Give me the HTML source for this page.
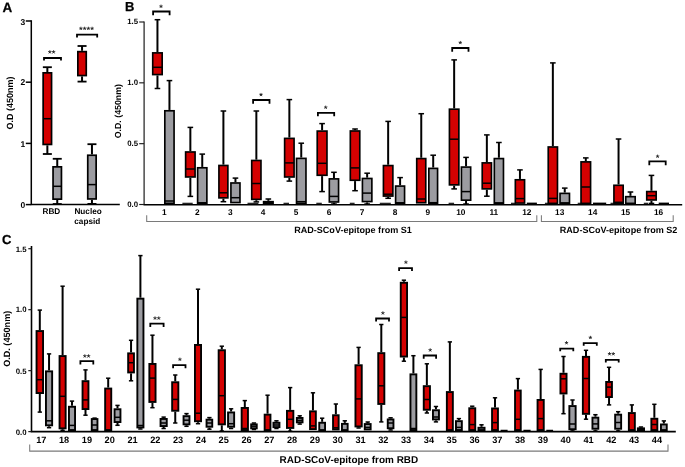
<!DOCTYPE html>
<html><head><meta charset="utf-8"><title>Figure</title>
<style>
html,body{margin:0;padding:0;background:#fff;}
body{width:685px;height:467px;overflow:hidden;font-family:"Liberation Sans",sans-serif;}
svg{display:block;will-change:transform;opacity:0.999;}
svg text{font-family:"Liberation Sans",sans-serif;text-rendering:geometricPrecision;}
</style></head><body>
<svg width="685" height="467" viewBox="0 0 685 467">
<g stroke="#000" fill="none">
<!-- panel A -->
<path d="M31.3 20.3V204.6H119.8" stroke-width="1.5" fill="none"/>
<path d="M25.8 204.6H31.3" stroke-width="1.5"/>
<path d="M25.8 143.4H31.3" stroke-width="1.5"/>
<path d="M25.8 82.2H31.3" stroke-width="1.5"/>
<path d="M25.8 21H31.3" stroke-width="1.5"/>
<path d="M47.35 67.2V72" stroke-width="2"/><path d="M42.85 67.2H51.85" stroke-width="1.8"/><path d="M47.35 145.3V154" stroke-width="2"/><path d="M42.85 154H51.85" stroke-width="1.8"/><rect x="43.15" y="72.85" width="8.4" height="71.6" fill="#d40000" stroke-width="1.7"/><path d="M43.15 118.7H51.55" stroke-width="1.5"/>
<path d="M57.25 158.8V166" stroke-width="2"/><path d="M52.75 158.8H61.75" stroke-width="1.8"/><path d="M57.25 200V204" stroke-width="2"/><path d="M52.75 204H61.75" stroke-width="1.8"/><rect x="53.05" y="166.85" width="8.4" height="32.3" fill="#9c9ca1" stroke-width="1.7"/><path d="M53.05 186.3H61.45" stroke-width="1.5"/>
<path d="M82.05 46V50.8" stroke-width="2"/><path d="M77.55 46H86.55" stroke-width="1.8"/><path d="M82.05 76.4V81.6" stroke-width="2"/><path d="M77.55 81.6H86.55" stroke-width="1.8"/><rect x="77.85" y="51.65" width="8.4" height="23.9" fill="#d40000" stroke-width="1.7"/>
<path d="M91.95 144.2V154.4" stroke-width="2"/><path d="M87.45 144.2H96.45" stroke-width="1.8"/><path d="M91.95 199.8V203.9" stroke-width="2"/><path d="M87.45 203.9H96.45" stroke-width="1.8"/><rect x="87.75" y="155.25" width="8.4" height="43.7" fill="#9c9ca1" stroke-width="1.7"/><path d="M87.75 184.6H96.15" stroke-width="1.5"/>
<path d="M44 60.6V58H61V60.6" fill="none" stroke-width="1.8"/>
<path d="M77 37.6V34.6H97.2V37.6" fill="none" stroke-width="1.8"/>
<!-- panel B -->
<path d="M144.1 21.4V204.7" stroke-width="1.2" stroke="#1c1c1c" fill="none"/>
<path d="M143.5 204.7H682.2" stroke-width="1.6" fill="none"/>
<path d="M139.2 204.5H144.1" stroke-width="1.15" stroke="#1c1c1c"/>
<path d="M139.2 143.67H144.1" stroke-width="1.15" stroke="#1c1c1c"/>
<path d="M139.2 82.83H144.1" stroke-width="1.15" stroke="#1c1c1c"/>
<path d="M139.2 22H144.1" stroke-width="1.15" stroke="#1c1c1c"/>
<path d="M182.4 203.3H192.7" stroke-width="1.1"/>
<path d="M247.5 203.3H258.4" stroke-width="1.1"/>
<path d="M283.5 203.3H289" stroke-width="1.1"/>
<path d="M316.3 203.3H321.8" stroke-width="1.1"/>
<path d="M349.8 203.3H354.6" stroke-width="1.1"/>
<path d="M379.8 203.3H390.8" stroke-width="1.1"/>
<path d="M448.6 203.3H454.1" stroke-width="1.1"/>
<path d="M511 203.3H516" stroke-width="1.1"/>
<path d="M544.9 203.3H549" stroke-width="1.1"/>
<path d="M577.7 203.3H582" stroke-width="1.1"/>
<path d="M610.5 203.3H615" stroke-width="1.1"/>
<path d="M643.8 203.3H648" stroke-width="1.1"/>
<path d="M157.45 19.7V52.05" stroke-width="2"/><path d="M154.65 19.7H160.25" stroke-width="1.5"/><path d="M157.45 75.4V88.5" stroke-width="2"/><path d="M154.65 88.5H160.25" stroke-width="1.5"/><rect x="152.72" y="52.88" width="9.45" height="21.7" fill="#d40000" stroke-width="1.65"/><path d="M152.72 67.3H162.18" stroke-width="1.5"/>
<path d="M169.45 80.6V109.95" stroke-width="2"/><path d="M166.65 80.6H172.25" stroke-width="1.5"/><rect x="164.82" y="110.78" width="9.25" height="92.6" fill="#9c9ca1" stroke-width="1.65"/><path d="M164.82 201H174.08" stroke-width="1.5"/>
<path d="M190.35 127.4V151.15" stroke-width="2"/><path d="M187.55 127.4H193.15" stroke-width="1.5"/><path d="M190.35 177.8V196.4" stroke-width="2"/><path d="M187.55 196.4H193.15" stroke-width="1.5"/><rect x="185.62" y="151.97" width="9.45" height="25" fill="#d40000" stroke-width="1.65"/><path d="M185.62 169H195.08" stroke-width="1.5"/>
<path d="M202.25 154.1V166.95" stroke-width="2"/><path d="M199.45 154.1H205.05" stroke-width="1.5"/><rect x="197.62" y="167.78" width="9.25" height="35.6" fill="#9c9ca1" stroke-width="1.65"/><path d="M197.62 202.8H206.88" stroke-width="1.5"/>
<path d="M223.4 111V164.65" stroke-width="2"/><path d="M220.6 111H226.2" stroke-width="1.5"/><path d="M223.4 198.7V201.7" stroke-width="2"/><path d="M220.6 201.7H226.2" stroke-width="1.5"/><rect x="218.92" y="165.47" width="8.95" height="32.4" fill="#d40000" stroke-width="1.65"/><path d="M218.92 192.8H227.88" stroke-width="1.5"/>
<path d="M235.45 178.1V182.15" stroke-width="2"/><path d="M232.65 178.1H238.25" stroke-width="1.5"/><rect x="230.92" y="182.97" width="9.05" height="19.6" fill="#9c9ca1" stroke-width="1.65"/><path d="M230.92 197.7H239.98" stroke-width="1.5"/>
<path d="M256.35 111V159.65" stroke-width="2"/><path d="M253.55 111H259.15" stroke-width="1.5"/><path d="M256.35 200.2V201.9" stroke-width="2"/><path d="M253.55 201.9H259.15" stroke-width="1.5"/><rect x="251.72" y="160.47" width="9.25" height="38.9" fill="#d40000" stroke-width="1.65"/><path d="M251.72 183.5H260.98" stroke-width="1.5"/>
<path d="M268.35 199V200.85" stroke-width="2"/><path d="M265.55 199H271.15" stroke-width="1.5"/><rect x="263.62" y="201.67" width="9.45" height="1.7" fill="#9c9ca1" stroke-width="1.65"/><path d="M263.62 202.8H273.08" stroke-width="1.5"/>
<path d="M289.35 99.6V137.55" stroke-width="2"/><path d="M286.55 99.6H292.15" stroke-width="1.5"/><path d="M289.35 177.8V181.1" stroke-width="2"/><path d="M286.55 181.1H292.15" stroke-width="1.5"/><rect x="284.62" y="138.38" width="9.45" height="38.6" fill="#d40000" stroke-width="1.65"/><path d="M284.62 162.9H294.08" stroke-width="1.5"/>
<path d="M301.25 143.2V157.55" stroke-width="2"/><path d="M298.45 143.2H304.05" stroke-width="1.5"/><rect x="296.52" y="158.38" width="9.45" height="45" fill="#9c9ca1" stroke-width="1.65"/><path d="M296.52 201.7H305.98" stroke-width="1.5"/>
<path d="M322.1 123.6V130.25" stroke-width="2"/><path d="M319.3 123.6H324.9" stroke-width="1.5"/><path d="M322.1 176.1V191.6" stroke-width="2"/><path d="M319.3 191.6H324.9" stroke-width="1.5"/><rect x="317.22" y="131.07" width="9.75" height="44.2" fill="#d40000" stroke-width="1.65"/><path d="M317.22 163.3H326.98" stroke-width="1.5"/>
<path d="M333.95 172.3V178.05" stroke-width="2"/><path d="M331.15 172.3H336.75" stroke-width="1.5"/><path d="M333.95 202.8V204" stroke-width="2"/><path d="M331.15 204H336.75" stroke-width="1.5"/><rect x="329.32" y="178.88" width="9.25" height="23.1" fill="#9c9ca1" stroke-width="1.65"/><path d="M329.32 196.4H338.58" stroke-width="1.5"/>
<path d="M355.05 129V130.15" stroke-width="2"/><path d="M352.25 129H357.85" stroke-width="1.5"/><path d="M355.05 181.1V190.7" stroke-width="2"/><path d="M352.25 190.7H357.85" stroke-width="1.5"/><rect x="350.32" y="130.97" width="9.45" height="49.3" fill="#d40000" stroke-width="1.65"/><path d="M350.32 167.9H359.78" stroke-width="1.5"/>
<path d="M367.15 173.2V177.65" stroke-width="2"/><path d="M364.35 173.2H369.95" stroke-width="1.5"/><path d="M367.15 202.4V204" stroke-width="2"/><path d="M364.35 204H369.95" stroke-width="1.5"/><rect x="362.42" y="178.47" width="9.45" height="23.1" fill="#9c9ca1" stroke-width="1.65"/><path d="M362.42 193.1H371.88" stroke-width="1.5"/>
<path d="M388.15 121.4V164.75" stroke-width="2"/><path d="M385.35 121.4H390.95" stroke-width="1.5"/><path d="M388.15 196.9V198.3" stroke-width="2"/><path d="M385.35 198.3H390.95" stroke-width="1.5"/><rect x="383.42" y="165.57" width="9.45" height="30.5" fill="#d40000" stroke-width="1.65"/><path d="M383.42 194.2H392.88" stroke-width="1.5"/>
<path d="M400.1 177.6V185.25" stroke-width="2"/><path d="M397.3 177.6H402.9" stroke-width="1.5"/><rect x="395.62" y="186.07" width="8.95" height="17.3" fill="#9c9ca1" stroke-width="1.65"/><path d="M395.62 202.8H404.58" stroke-width="1.5"/>
<path d="M421.25 113.7V157.75" stroke-width="2"/><path d="M418.45 113.7H424.05" stroke-width="1.5"/><rect x="416.72" y="158.57" width="9.05" height="44.2" fill="#d40000" stroke-width="1.65"/><path d="M416.72 199H425.78" stroke-width="1.5"/>
<path d="M433.2 155.2V167.55" stroke-width="2"/><path d="M430.4 155.2H436" stroke-width="1.5"/><rect x="428.82" y="168.38" width="8.75" height="35" fill="#9c9ca1" stroke-width="1.65"/><path d="M428.82 202.7H437.58" stroke-width="1.5"/>
<path d="M454.15 59.9V108.35" stroke-width="2"/><path d="M451.35 59.9H456.95" stroke-width="1.5"/><path d="M454.15 185.7V188.9" stroke-width="2"/><path d="M451.35 188.9H456.95" stroke-width="1.5"/><rect x="449.42" y="109.18" width="9.45" height="75.7" fill="#d40000" stroke-width="1.65"/><path d="M449.42 139.2H458.88" stroke-width="1.5"/>
<path d="M466.05 157.4V166.25" stroke-width="2"/><path d="M463.25 157.4H468.85" stroke-width="1.5"/><path d="M466.05 201V204" stroke-width="2"/><path d="M463.25 204H468.85" stroke-width="1.5"/><rect x="461.42" y="167.07" width="9.25" height="33.1" fill="#9c9ca1" stroke-width="1.65"/><path d="M461.42 191.6H470.68" stroke-width="1.5"/>
<path d="M486.85 134.9V162.05" stroke-width="2"/><path d="M484.05 134.9H489.65" stroke-width="1.5"/><path d="M486.85 189.7V196.2" stroke-width="2"/><path d="M484.05 196.2H489.65" stroke-width="1.5"/><rect x="482.22" y="162.88" width="9.25" height="26" fill="#d40000" stroke-width="1.65"/><path d="M482.22 183.2H491.48" stroke-width="1.5"/>
<path d="M498.9 142.5V157.75" stroke-width="2"/><path d="M496.1 142.5H501.7" stroke-width="1.5"/><rect x="494.32" y="158.57" width="9.15" height="44.8" fill="#9c9ca1" stroke-width="1.65"/><path d="M494.32 202.9H503.48" stroke-width="1.5"/>
<path d="M519.95 169.9V178.95" stroke-width="2"/><path d="M517.15 169.9H522.75" stroke-width="1.5"/><rect x="515.33" y="179.78" width="9.25" height="23.3" fill="#d40000" stroke-width="1.65"/><path d="M515.33 198.6H524.57" stroke-width="1.5"/>
<path d="M552.85 62.9V146.15" stroke-width="2"/><path d="M550.05 62.9H555.65" stroke-width="1.5"/><rect x="548.23" y="146.97" width="9.25" height="56.4" fill="#d40000" stroke-width="1.65"/><path d="M548.23 198.4H557.47" stroke-width="1.5"/>
<path d="M564.75 188.1V192.55" stroke-width="2"/><path d="M561.95 188.1H567.55" stroke-width="1.5"/><rect x="560.03" y="193.38" width="9.45" height="10" fill="#9c9ca1" stroke-width="1.65"/><path d="M560.03 202.9H569.47" stroke-width="1.5"/>
<path d="M585.8 157.9V161.05" stroke-width="2"/><path d="M583 157.9H588.6" stroke-width="1.5"/><rect x="581.03" y="161.88" width="9.55" height="41.5" fill="#d40000" stroke-width="1.65"/><path d="M581.03 187H590.57" stroke-width="1.5"/>
<path d="M618.55 139V184.45" stroke-width="2"/><path d="M615.75 139H621.35" stroke-width="1.5"/><rect x="613.93" y="185.28" width="9.25" height="18.1" fill="#d40000" stroke-width="1.65"/><path d="M613.93 202.3H623.17" stroke-width="1.5"/>
<path d="M630.45 192V195.85" stroke-width="2"/><path d="M627.65 192H633.25" stroke-width="1.5"/><rect x="625.73" y="196.67" width="9.45" height="6.7" fill="#9c9ca1" stroke-width="1.65"/>
<path d="M651.45 175.4V190.75" stroke-width="2"/><path d="M648.65 175.4H654.25" stroke-width="1.5"/><path d="M651.45 200.8V203.4" stroke-width="2"/><path d="M648.65 203.4H654.25" stroke-width="1.5"/><rect x="646.73" y="191.57" width="9.45" height="8.4" fill="#d40000" stroke-width="1.65"/><path d="M646.73 195.7H656.17" stroke-width="1.5"/>
<path d="M526.8 203.5H536.9" stroke-width="1.8"/>
<path d="M593 203.5H606.2" stroke-width="1.8"/>
<path d="M658.7 203.5H669" stroke-width="1.8"/>
<path d="M153.1 15.3V11.5H169.6V15.3" fill="none" stroke-width="1.8"/>
<path d="M253.1 103.8V100H269.5V103.8" fill="none" stroke-width="1.8"/>
<path d="M317.9 116.2V112.8H334.2V116.2" fill="none" stroke-width="1.8"/>
<path d="M452.2 51.8V48H468.5V51.8" fill="none" stroke-width="1.8"/>
<path d="M649.3 165.2V161.4H665.7V165.2" fill="none" stroke-width="1.8"/>
<!-- panel C -->
<path d="M31.5 245.9V431.65H675.8" stroke-width="1.6" fill="none"/>
<path d="M28.3 431.6H31.5" stroke-width="1.2" stroke="#1c1c1c"/>
<path d="M28.3 370.63H31.5" stroke-width="1.2" stroke="#1c1c1c"/>
<path d="M28.3 309.67H31.5" stroke-width="1.2" stroke="#1c1c1c"/>
<path d="M28.3 248.7H31.5" stroke-width="1.2" stroke="#1c1c1c"/>
<path d="M39.8 310.1V330.1" stroke-width="2"/><path d="M37.65 310.1H41.95" stroke-width="1.5"/><path d="M39.8 394V412.1" stroke-width="2"/><path d="M37.65 412.1H41.95" stroke-width="1.5"/><rect x="36.55" y="331.05" width="6.5" height="62" fill="#d40000" stroke-width="1.9"/><path d="M36.55 379.7H43.05" stroke-width="1.5"/>
<path d="M49.05 353.9V370.4" stroke-width="2"/><path d="M46.9 353.9H51.2" stroke-width="1.5"/><path d="M49.05 426.3V427.7" stroke-width="2"/><path d="M46.9 427.7H51.2" stroke-width="1.5"/><rect x="45.95" y="371.35" width="6.2" height="54" fill="#9c9ca1" stroke-width="1.9"/><path d="M45.95 420.8H52.15" stroke-width="1.5"/>
<path d="M62.6 286.2V355.1" stroke-width="2"/><path d="M60.45 286.2H64.75" stroke-width="1.5"/><path d="M62.6 429.3V430.4" stroke-width="2"/><path d="M60.45 430.4H64.75" stroke-width="1.5"/><rect x="59.55" y="356.05" width="6.1" height="72.3" fill="#d40000" stroke-width="1.9"/><path d="M59.55 396.3H65.65" stroke-width="1.5"/>
<path d="M72 401.1V405.8" stroke-width="2"/><path d="M69.85 401.1H74.15" stroke-width="1.5"/><rect x="68.95" y="406.75" width="6.1" height="23.3" fill="#9c9ca1" stroke-width="1.9"/><path d="M68.95 425.4H75.05" stroke-width="1.5"/>
<path d="M85.5 369.9V380.2" stroke-width="2"/><path d="M83.35 369.9H87.65" stroke-width="1.5"/><path d="M85.5 410V415.2" stroke-width="2"/><path d="M83.35 415.2H87.65" stroke-width="1.5"/><rect x="82.55" y="381.15" width="5.9" height="27.9" fill="#d40000" stroke-width="1.9"/><path d="M82.55 399.9H88.45" stroke-width="1.5"/>
<path d="M92.45 418.1H96.75" stroke-width="1.5"/><rect x="91.75" y="419.05" width="5.7" height="11" fill="#9c9ca1" stroke-width="1.9"/><path d="M91.75 425H97.45" stroke-width="1.5"/>
<path d="M108.2 378.2V387.6" stroke-width="2"/><path d="M106.05 378.2H110.35" stroke-width="1.5"/><rect x="105.15" y="388.55" width="6.1" height="41.5" fill="#d40000" stroke-width="1.9"/>
<path d="M117.5 405.4V408.3" stroke-width="2"/><path d="M115.35 405.4H119.65" stroke-width="1.5"/><path d="M117.5 423V425.3" stroke-width="2"/><path d="M115.35 425.3H119.65" stroke-width="1.5"/><rect x="114.55" y="409.25" width="5.9" height="12.8" fill="#9c9ca1" stroke-width="1.9"/><path d="M114.55 417.3H120.45" stroke-width="1.5"/>
<path d="M131.05 340.3V352.4" stroke-width="2"/><path d="M128.9 340.3H133.2" stroke-width="1.5"/><path d="M131.05 373.4V380.8" stroke-width="2"/><path d="M128.9 380.8H133.2" stroke-width="1.5"/><rect x="128.15" y="353.35" width="5.8" height="19.1" fill="#d40000" stroke-width="1.9"/><path d="M128.15 362.7H133.95" stroke-width="1.5"/>
<path d="M140.4 255.6V297.7" stroke-width="2"/><path d="M138.25 255.6H142.55" stroke-width="1.5"/><path d="M140.4 428.4V429" stroke-width="2"/><path d="M138.25 429H142.55" stroke-width="1.5"/><rect x="137.35" y="298.65" width="6.1" height="128.8" fill="#9c9ca1" stroke-width="1.9"/><path d="M137.35 425.5H143.45" stroke-width="1.5"/>
<path d="M152.45 335.2V363" stroke-width="2"/><path d="M150.3 335.2H154.6" stroke-width="1.5"/><path d="M152.45 402.9V407.7" stroke-width="2"/><path d="M150.3 407.7H154.6" stroke-width="1.5"/><rect x="149.35" y="363.95" width="6.2" height="38" fill="#d40000" stroke-width="1.9"/><path d="M149.35 378.1H155.55" stroke-width="1.5"/>
<path d="M163.65 417.1V418" stroke-width="2"/><path d="M161.5 417.1H165.8" stroke-width="1.5"/><path d="M163.65 427V428.5" stroke-width="2"/><path d="M161.5 428.5H165.8" stroke-width="1.5"/><rect x="160.55" y="418.95" width="6.2" height="7.1" fill="#9c9ca1" stroke-width="1.9"/><path d="M160.55 423H166.75" stroke-width="1.5"/>
<path d="M175.25 375V381.3" stroke-width="2"/><path d="M173.1 375H177.4" stroke-width="1.5"/><path d="M175.25 411.7V423" stroke-width="2"/><path d="M173.1 423H177.4" stroke-width="1.5"/><rect x="172.15" y="382.25" width="6.2" height="28.5" fill="#d40000" stroke-width="1.9"/><path d="M172.15 399.4H178.35" stroke-width="1.5"/>
<path d="M186.5 413.6V415.2" stroke-width="2"/><path d="M184.35 413.6H188.65" stroke-width="1.5"/><path d="M186.5 425.3V426.3" stroke-width="2"/><path d="M184.35 426.3H188.65" stroke-width="1.5"/><rect x="183.55" y="416.15" width="5.9" height="8.2" fill="#9c9ca1" stroke-width="1.9"/><path d="M183.55 420.2H189.45" stroke-width="1.5"/>
<path d="M198 289.2V344" stroke-width="2"/><path d="M195.85 289.2H200.15" stroke-width="1.5"/><path d="M198 422.2V423.7" stroke-width="2"/><path d="M195.85 423.7H200.15" stroke-width="1.5"/><rect x="194.95" y="344.95" width="6.1" height="76.3" fill="#d40000" stroke-width="1.9"/><path d="M194.95 413.2H201.05" stroke-width="1.5"/>
<path d="M209.4 417.6V418.7" stroke-width="2"/><path d="M207.25 417.6H211.55" stroke-width="1.5"/><path d="M209.4 427.7V429.2" stroke-width="2"/><path d="M207.25 429.2H211.55" stroke-width="1.5"/><rect x="206.55" y="419.65" width="5.7" height="7.1" fill="#9c9ca1" stroke-width="1.9"/><path d="M206.55 423H212.25" stroke-width="1.5"/>
<path d="M221.8 346.2V349.3" stroke-width="2"/><path d="M219.65 346.2H223.95" stroke-width="1.5"/><path d="M221.8 425.3V431" stroke-width="2"/><path d="M219.65 431H223.95" stroke-width="1.5"/><rect x="218.65" y="350.25" width="6.3" height="74.1" fill="#d40000" stroke-width="1.9"/><path d="M218.65 395.7H224.95" stroke-width="1.5"/>
<path d="M231.1 408.8V411.5" stroke-width="2"/><path d="M228.95 408.8H233.25" stroke-width="1.5"/><path d="M231.1 427.7V428.5" stroke-width="2"/><path d="M228.95 428.5H233.25" stroke-width="1.5"/><rect x="228.05" y="412.45" width="6.1" height="14.3" fill="#9c9ca1" stroke-width="1.9"/><path d="M228.05 423.7H234.15" stroke-width="1.5"/>
<path d="M244.8 400.6V407" stroke-width="2"/><path d="M242.65 400.6H246.95" stroke-width="1.5"/><rect x="241.65" y="407.95" width="6.3" height="22.1" fill="#d40000" stroke-width="1.9"/><path d="M241.65 428.5H247.95" stroke-width="1.5"/>
<path d="M253.95 423V423.4" stroke-width="2"/><path d="M251.8 423H256.1" stroke-width="1.5"/><path d="M251.8 429.5H256.1" stroke-width="1.5"/><rect x="251.15" y="424.35" width="5.6" height="4" fill="#9c9ca1" stroke-width="1.9"/><path d="M251.15 426.2H256.75" stroke-width="1.5"/>
<path d="M267.55 395.2V413.7" stroke-width="2"/><path d="M265.4 395.2H269.7" stroke-width="1.5"/><rect x="264.65" y="414.65" width="5.8" height="15.4" fill="#d40000" stroke-width="1.9"/>
<path d="M276.45 420.8V421.8" stroke-width="2"/><path d="M274.3 420.8H278.6" stroke-width="1.5"/><path d="M276.45 428.1V428.5" stroke-width="2"/><path d="M274.3 428.5H278.6" stroke-width="1.5"/><rect x="273.45" y="422.75" width="6" height="4.4" fill="#9c9ca1" stroke-width="1.9"/><path d="M273.45 425H279.45" stroke-width="1.5"/>
<path d="M290.15 387.6V409.9" stroke-width="2"/><path d="M288 387.6H292.3" stroke-width="1.5"/><path d="M290.15 428.9V431.2" stroke-width="2"/><path d="M288 431.2H292.3" stroke-width="1.5"/><rect x="286.95" y="410.85" width="6.4" height="17.1" fill="#d40000" stroke-width="1.9"/><path d="M286.95 419.3H293.35" stroke-width="1.5"/>
<path d="M299.7 415.8V417" stroke-width="2"/><path d="M297.55 415.8H301.85" stroke-width="1.5"/><path d="M299.7 423.3V424.1" stroke-width="2"/><path d="M297.55 424.1H301.85" stroke-width="1.5"/><rect x="296.85" y="417.95" width="5.7" height="4.4" fill="#9c9ca1" stroke-width="1.9"/><path d="M296.85 420.4H302.55" stroke-width="1.5"/>
<path d="M312.95 392.8V410.4" stroke-width="2"/><path d="M310.8 392.8H315.1" stroke-width="1.5"/><rect x="310.05" y="411.35" width="5.8" height="17.8" fill="#d40000" stroke-width="1.9"/><path d="M310.05 425.9H315.85" stroke-width="1.5"/>
<path d="M322.15 418.2V421.8" stroke-width="2"/><path d="M320 418.2H324.3" stroke-width="1.5"/><rect x="319.25" y="422.75" width="5.8" height="7.3" fill="#9c9ca1" stroke-width="1.9"/>
<path d="M335.85 404V414.3" stroke-width="2"/><path d="M333.7 404H338" stroke-width="1.5"/><rect x="333.05" y="415.25" width="5.6" height="14.2" fill="#d40000" stroke-width="1.9"/><path d="M333.05 427.8H338.65" stroke-width="1.5"/>
<path d="M344.8 420.8V422.9" stroke-width="2"/><path d="M342.65 420.8H346.95" stroke-width="1.5"/><rect x="341.95" y="423.85" width="5.7" height="6.2" fill="#9c9ca1" stroke-width="1.9"/>
<path d="M358.6 347.4V364.3" stroke-width="2"/><path d="M356.45 347.4H360.75" stroke-width="1.5"/><path d="M358.6 427.4V428" stroke-width="2"/><path d="M356.45 428H360.75" stroke-width="1.5"/><rect x="355.45" y="365.25" width="6.3" height="61.2" fill="#d40000" stroke-width="1.9"/><path d="M355.45 398.9H361.75" stroke-width="1.5"/>
<path d="M367.7 422V423.1" stroke-width="2"/><path d="M365.55 422H369.85" stroke-width="1.5"/><rect x="364.75" y="424.05" width="5.9" height="5.4" fill="#9c9ca1" stroke-width="1.9"/><path d="M364.75 427.4H370.65" stroke-width="1.5"/>
<path d="M381.3 324.5V352.2" stroke-width="2"/><path d="M379.15 324.5H383.45" stroke-width="1.5"/><path d="M381.3 404.9V421.9" stroke-width="2"/><path d="M379.15 421.9H383.45" stroke-width="1.5"/><rect x="378.25" y="353.15" width="6.1" height="50.8" fill="#d40000" stroke-width="1.9"/><path d="M378.25 385.8H384.35" stroke-width="1.5"/>
<path d="M390.6 417.8V418.5" stroke-width="2"/><path d="M388.45 417.8H392.75" stroke-width="1.5"/><path d="M390.6 429.2V430" stroke-width="2"/><path d="M388.45 430H392.75" stroke-width="1.5"/><rect x="387.75" y="419.45" width="5.7" height="8.8" fill="#9c9ca1" stroke-width="1.9"/><path d="M387.75 423H393.45" stroke-width="1.5"/>
<path d="M403.9 280.2V281.8" stroke-width="2"/><path d="M401.75 280.2H406.05" stroke-width="1.5"/><path d="M403.9 357.5V361.2" stroke-width="2"/><path d="M401.75 361.2H406.05" stroke-width="1.5"/><rect x="400.75" y="282.75" width="6.3" height="73.8" fill="#d40000" stroke-width="1.9"/><path d="M400.75 317.4H407.05" stroke-width="1.5"/>
<path d="M413.4 355.7V373.4" stroke-width="2"/><path d="M411.25 355.7H415.55" stroke-width="1.5"/><rect x="410.45" y="374.35" width="5.9" height="55.7" fill="#9c9ca1" stroke-width="1.9"/><path d="M410.45 428.5H416.35" stroke-width="1.5"/>
<path d="M426.85 363.8V385.2" stroke-width="2"/><path d="M424.7 363.8H429" stroke-width="1.5"/><path d="M426.85 410.7V413" stroke-width="2"/><path d="M424.7 413H429" stroke-width="1.5"/><rect x="423.75" y="386.15" width="6.2" height="23.6" fill="#d40000" stroke-width="1.9"/><path d="M423.75 399.5H429.95" stroke-width="1.5"/>
<path d="M435.95 406.5V409.3" stroke-width="2"/><path d="M433.8 406.5H438.1" stroke-width="1.5"/><path d="M435.95 420.4V421.9" stroke-width="2"/><path d="M433.8 421.9H438.1" stroke-width="1.5"/><rect x="432.95" y="410.25" width="6" height="9.2" fill="#9c9ca1" stroke-width="1.9"/><path d="M432.95 417H438.95" stroke-width="1.5"/>
<path d="M449.85 341.9V391.1" stroke-width="2"/><path d="M447.7 341.9H452" stroke-width="1.5"/><rect x="446.85" y="392.05" width="6" height="38" fill="#d40000" stroke-width="1.9"/>
<path d="M458.9 418.6V420.2" stroke-width="2"/><path d="M456.75 418.6H461.05" stroke-width="1.5"/><rect x="455.95" y="421.15" width="5.9" height="8.9" fill="#9c9ca1" stroke-width="1.9"/><path d="M455.95 427.4H461.85" stroke-width="1.5"/>
<path d="M472.25 406.2V407.3" stroke-width="2"/><path d="M470.1 406.2H474.4" stroke-width="1.5"/><rect x="469.25" y="408.25" width="6" height="21.8" fill="#d40000" stroke-width="1.9"/><path d="M469.25 424.6H475.25" stroke-width="1.5"/>
<path d="M481.5 424.8V426.8" stroke-width="2"/><path d="M479.35 424.8H483.65" stroke-width="1.5"/><rect x="478.45" y="427.75" width="6.1" height="2.3" fill="#9c9ca1" stroke-width="1.9"/>
<path d="M495 397.8V407.5" stroke-width="2"/><path d="M492.85 397.8H497.15" stroke-width="1.5"/><rect x="492.05" y="408.45" width="5.9" height="21.6" fill="#d40000" stroke-width="1.9"/><path d="M492.05 422.6H497.95" stroke-width="1.5"/>
<path d="M517.9 378.6V389.6" stroke-width="2"/><path d="M515.75 378.6H520.05" stroke-width="1.5"/><rect x="515.05" y="390.55" width="5.7" height="39.5" fill="#d40000" stroke-width="1.9"/><path d="M515.05 419.3H520.75" stroke-width="1.5"/>
<path d="M540.65 369.4V399" stroke-width="2"/><path d="M538.5 369.4H542.8" stroke-width="1.5"/><rect x="537.55" y="399.95" width="6.2" height="30.1" fill="#d40000" stroke-width="1.9"/><path d="M537.55 418.6H543.75" stroke-width="1.5"/>
<path d="M563.5 356.5V372.8" stroke-width="2"/><path d="M561.35 356.5H565.65" stroke-width="1.5"/><path d="M563.5 394.4V413.7" stroke-width="2"/><path d="M561.35 413.7H565.65" stroke-width="1.5"/><rect x="560.45" y="373.75" width="6.1" height="19.7" fill="#d40000" stroke-width="1.9"/><path d="M560.45 378.8H566.55" stroke-width="1.5"/>
<path d="M572.5 400V405.1" stroke-width="2"/><path d="M570.35 400H574.65" stroke-width="1.5"/><path d="M572.5 430.2V431" stroke-width="2"/><path d="M570.35 431H574.65" stroke-width="1.5"/><rect x="569.35" y="406.05" width="6.3" height="23.2" fill="#9c9ca1" stroke-width="1.9"/><path d="M569.35 424H575.65" stroke-width="1.5"/>
<path d="M586 350.3V355.9" stroke-width="2"/><path d="M583.85 350.3H588.15" stroke-width="1.5"/><path d="M586 414.8V419.2" stroke-width="2"/><path d="M583.85 419.2H588.15" stroke-width="1.5"/><rect x="582.85" y="356.85" width="6.3" height="57" fill="#d40000" stroke-width="1.9"/><path d="M582.85 378.5H589.15" stroke-width="1.5"/>
<path d="M595.4 414.7V416.7" stroke-width="2"/><path d="M593.25 414.7H597.55" stroke-width="1.5"/><path d="M595.4 429.7V431" stroke-width="2"/><path d="M593.25 431H597.55" stroke-width="1.5"/><rect x="592.45" y="417.65" width="5.9" height="11.1" fill="#9c9ca1" stroke-width="1.9"/><path d="M592.45 423.9H598.35" stroke-width="1.5"/>
<path d="M609.05 367.3V381" stroke-width="2"/><path d="M606.9 367.3H611.2" stroke-width="1.5"/><path d="M609.05 398V404.9" stroke-width="2"/><path d="M606.9 404.9H611.2" stroke-width="1.5"/><rect x="606.15" y="381.95" width="5.8" height="15.1" fill="#d40000" stroke-width="1.9"/><path d="M606.15 387.1H611.95" stroke-width="1.5"/>
<path d="M618.15 411.7V413.7" stroke-width="2"/><path d="M616 411.7H620.3" stroke-width="1.5"/><path d="M618.15 429.7V431" stroke-width="2"/><path d="M616 431H620.3" stroke-width="1.5"/><rect x="615.15" y="414.65" width="6" height="14.1" fill="#9c9ca1" stroke-width="1.9"/><path d="M615.15 422.5H621.15" stroke-width="1.5"/>
<path d="M631.85 404.9V412.1" stroke-width="2"/><path d="M629.7 404.9H634" stroke-width="1.5"/><rect x="628.85" y="413.05" width="6" height="17" fill="#d40000" stroke-width="1.9"/>
<path d="M640.95 427V427.4" stroke-width="2"/><path d="M638.8 427H643.1" stroke-width="1.5"/><rect x="637.85" y="428.35" width="6.2" height="1.7" fill="#9c9ca1" stroke-width="1.9"/>
<path d="M654.35 404.3V417.8" stroke-width="2"/><path d="M652.2 404.3H656.5" stroke-width="1.5"/><rect x="651.35" y="418.75" width="6" height="11.3" fill="#d40000" stroke-width="1.9"/><path d="M651.35 424.5H657.35" stroke-width="1.5"/>
<path d="M663.85 420.9V423.5" stroke-width="2"/><path d="M661.7 420.9H666" stroke-width="1.5"/><rect x="660.95" y="424.45" width="5.8" height="5.6" fill="#9c9ca1" stroke-width="1.9"/>
<path d="M500.6 430.5H507.6" stroke-width="1.5"/>
<path d="M523.4 430.5H530.6" stroke-width="1.5"/>
<path d="M546.3 430.5H553.1" stroke-width="1.5"/>
<path d="M80.4 364.4V361.1H93.3V364.4" fill="none" stroke-width="1.8"/>
<path d="M150.3 326.9V323.6H163.6V326.9" fill="none" stroke-width="1.8"/>
<path d="M173.1 368.2V365.2H185.5V368.2" fill="none" stroke-width="1.8"/>
<path d="M376.1 321.5V318.5H389V321.5" fill="none" stroke-width="1.8"/>
<path d="M399.1 271.1V268.1H412V271.1" fill="none" stroke-width="1.8"/>
<path d="M423.7 358.8V355.5H436.1V358.8" fill="none" stroke-width="1.8"/>
<path d="M560.2 351.2V348.7H573.3V351.2" fill="none" stroke-width="1.8"/>
<path d="M583.7 345.8V343.2H596.8V345.8" fill="none" stroke-width="1.8"/>
<path d="M605.8 362.4V359.9H618.7V362.4" fill="none" stroke-width="1.8"/>
</g>
<g stroke="#7a7a7a" stroke-width="1.05" fill="none">
<path d="M146.7 215.2V221.5H536.8V215.2"/>
<path d="M541.4 215.2V221.5H673.2V215.2"/>
<path d="M29.7 444.5V451.1H668V444.5"/>
</g>
<g fill="#000" font-weight="bold" font-family="'Liberation Sans', sans-serif" opacity="0.999">
<path d="M49.83 52L49.83 50.25M49.83 52L51.49 51.46M49.83 52L50.85 53.42M49.83 52L48.8 53.42M49.83 52L48.16 51.46" stroke="#111" stroke-width="0.85" fill="none" stroke-linecap="butt"/>
<path d="M53.58 52L53.58 50.25M53.58 52L55.24 51.46M53.58 52L54.6 53.42M53.58 52L52.55 53.42M53.58 52L51.91 51.46" stroke="#111" stroke-width="0.85" fill="none" stroke-linecap="butt"/>
<path d="M80.88 28.5L80.88 26.75M80.88 28.5L82.54 27.96M80.88 28.5L81.9 29.92M80.88 28.5L79.85 29.92M80.88 28.5L79.21 27.96" stroke="#111" stroke-width="0.85" fill="none" stroke-linecap="butt"/>
<path d="M84.62 28.5L84.62 26.75M84.62 28.5L86.29 27.96M84.62 28.5L85.65 29.92M84.62 28.5L83.6 29.92M84.62 28.5L82.96 27.96" stroke="#111" stroke-width="0.85" fill="none" stroke-linecap="butt"/>
<path d="M88.38 28.5L88.38 26.75M88.38 28.5L90.04 27.96M88.38 28.5L89.4 29.92M88.38 28.5L87.35 29.92M88.38 28.5L86.71 27.96" stroke="#111" stroke-width="0.85" fill="none" stroke-linecap="butt"/>
<path d="M92.12 28.5L92.12 26.75M92.12 28.5L93.79 27.96M92.12 28.5L93.15 29.92M92.12 28.5L91.1 29.92M92.12 28.5L90.46 27.96" stroke="#111" stroke-width="0.85" fill="none" stroke-linecap="butt"/>
<path d="M161 6.4L161 4.65M161 6.4L162.66 5.86M161 6.4L162.03 7.82M161 6.4L159.97 7.82M161 6.4L159.34 5.86" stroke="#111" stroke-width="0.85" fill="none" stroke-linecap="butt"/>
<path d="M261 94.7L261 92.95M261 94.7L262.66 94.16M261 94.7L262.03 96.12M261 94.7L259.97 96.12M261 94.7L259.34 94.16" stroke="#111" stroke-width="0.85" fill="none" stroke-linecap="butt"/>
<path d="M325.7 107.4L325.7 105.65M325.7 107.4L327.36 106.86M325.7 107.4L326.73 108.82M325.7 107.4L324.67 108.82M325.7 107.4L324.04 106.86" stroke="#111" stroke-width="0.85" fill="none" stroke-linecap="butt"/>
<path d="M460.3 42.7L460.3 40.95M460.3 42.7L461.96 42.16M460.3 42.7L461.33 44.12M460.3 42.7L459.27 44.12M460.3 42.7L458.64 42.16" stroke="#111" stroke-width="0.85" fill="none" stroke-linecap="butt"/>
<path d="M657.6 156.4L657.6 154.65M657.6 156.4L659.26 155.86M657.6 156.4L658.63 157.82M657.6 156.4L656.57 157.82M657.6 156.4L655.94 155.86" stroke="#111" stroke-width="0.85" fill="none" stroke-linecap="butt"/>
<path d="M84.83 356.1L84.83 354.35M84.83 356.1L86.49 355.56M84.83 356.1L85.85 357.52M84.83 356.1L83.8 357.52M84.83 356.1L83.16 355.56" stroke="#111" stroke-width="0.85" fill="none" stroke-linecap="butt"/>
<path d="M88.58 356.1L88.58 354.35M88.58 356.1L90.24 355.56M88.58 356.1L89.6 357.52M88.58 356.1L87.55 357.52M88.58 356.1L86.91 355.56" stroke="#111" stroke-width="0.85" fill="none" stroke-linecap="butt"/>
<path d="M155.03 318.2L155.03 316.45M155.03 318.2L156.69 317.66M155.03 318.2L156.05 319.62M155.03 318.2L154 319.62M155.03 318.2L153.36 317.66" stroke="#111" stroke-width="0.85" fill="none" stroke-linecap="butt"/>
<path d="M158.78 318.2L158.78 316.45M158.78 318.2L160.44 317.66M158.78 318.2L159.8 319.62M158.78 318.2L157.75 319.62M158.78 318.2L157.11 317.66" stroke="#111" stroke-width="0.85" fill="none" stroke-linecap="butt"/>
<path d="M179.9 359.4L179.9 357.65M179.9 359.4L181.56 358.86M179.9 359.4L180.93 360.82M179.9 359.4L178.87 360.82M179.9 359.4L178.24 358.86" stroke="#111" stroke-width="0.85" fill="none" stroke-linecap="butt"/>
<path d="M382.9 313.1L382.9 311.35M382.9 313.1L384.56 312.56M382.9 313.1L383.93 314.52M382.9 313.1L381.87 314.52M382.9 313.1L381.24 312.56" stroke="#111" stroke-width="0.85" fill="none" stroke-linecap="butt"/>
<path d="M405.9 262.3L405.9 260.55M405.9 262.3L407.56 261.76M405.9 262.3L406.93 263.72M405.9 262.3L404.87 263.72M405.9 262.3L404.24 261.76" stroke="#111" stroke-width="0.85" fill="none" stroke-linecap="butt"/>
<path d="M430.2 350.1L430.2 348.35M430.2 350.1L431.86 349.56M430.2 350.1L431.23 351.52M430.2 350.1L429.17 351.52M430.2 350.1L428.54 349.56" stroke="#111" stroke-width="0.85" fill="none" stroke-linecap="butt"/>
<path d="M566.5 342.9L566.5 341.15M566.5 342.9L568.16 342.36M566.5 342.9L567.53 344.32M566.5 342.9L565.47 344.32M566.5 342.9L564.84 342.36" stroke="#111" stroke-width="0.85" fill="none" stroke-linecap="butt"/>
<path d="M590.4 337.6L590.4 335.85M590.4 337.6L592.06 337.06M590.4 337.6L591.43 339.02M590.4 337.6L589.37 339.02M590.4 337.6L588.74 337.06" stroke="#111" stroke-width="0.85" fill="none" stroke-linecap="butt"/>
<path d="M609.52 353.9L609.52 352.15M609.52 353.9L611.19 353.36M609.52 353.9L610.55 355.32M609.52 353.9L608.5 355.32M609.52 353.9L607.86 353.36" stroke="#111" stroke-width="0.85" fill="none" stroke-linecap="butt"/>
<path d="M613.27 353.9L613.27 352.15M613.27 353.9L614.94 353.36M613.27 353.9L614.3 355.32M613.27 353.9L612.25 355.32M613.27 353.9L611.61 353.36" stroke="#111" stroke-width="0.85" fill="none" stroke-linecap="butt"/>
<text x="2.4" y="11.8" font-size="13.5" stroke="#000" stroke-width="0.25">A</text>
<text x="125" y="11.4" font-size="13" stroke="#000" stroke-width="0.25">B</text>
<text x="1.9" y="244.3" font-size="13" stroke="#000" stroke-width="0.25">C</text>
<text x="25.3" y="207.74" font-size="8.5" text-anchor="end">0</text>
<text x="25.3" y="146.54" font-size="8.5" text-anchor="end">1</text>
<text x="25.3" y="85.24" font-size="8.5" text-anchor="end">2</text>
<text x="25.3" y="24.74" font-size="8.5" text-anchor="end">3</text>
<text x="138.1" y="207.39" font-size="7.8" text-anchor="end">0.0</text>
<text x="138.1" y="146.39" font-size="7.8" text-anchor="end">0.5</text>
<text x="138.1" y="85.29" font-size="7.8" text-anchor="end">1.0</text>
<text x="138.1" y="24.24" font-size="7.8" text-anchor="end">1.5</text>
<text x="26.6" y="434.69" font-size="7.8" text-anchor="end">0.0</text>
<text x="26.6" y="373.74" font-size="7.8" text-anchor="end">0.5</text>
<text x="26.6" y="311.89" font-size="7.8" text-anchor="end">1.0</text>
<text x="26.6" y="252.49" font-size="7.8" text-anchor="end">1.5</text>
<text transform="translate(12.8 103) rotate(-90)" font-size="9" text-anchor="middle">O.D (450nm)</text>
<text transform="translate(121.2 111.2) rotate(-90)" font-size="8.8" text-anchor="middle">O.D. (450nm)</text>
<text transform="translate(10.1 338.8) rotate(-90)" font-size="9.1" text-anchor="middle">O.D. (450nm)</text>
<text x="51.4" y="213.9" font-size="8.2" text-anchor="middle">RBD</text>
<text x="88.1" y="213.9" font-size="8.2" text-anchor="middle">Nucleo</text>
<text x="87.3" y="224.4" font-size="8.2" text-anchor="middle">capsid</text>
<text x="164.3" y="215.25" font-size="8.3" text-anchor="middle">1</text>
<text x="197.25" y="215.25" font-size="8.3" text-anchor="middle">2</text>
<text x="230.2" y="215.25" font-size="8.3" text-anchor="middle">3</text>
<text x="263.15" y="215.25" font-size="8.3" text-anchor="middle">4</text>
<text x="296.1" y="215.25" font-size="8.3" text-anchor="middle">5</text>
<text x="329.05" y="215.25" font-size="8.3" text-anchor="middle">6</text>
<text x="362" y="215.25" font-size="8.3" text-anchor="middle">7</text>
<text x="394.95" y="215.25" font-size="8.3" text-anchor="middle">8</text>
<text x="427.9" y="215.25" font-size="8.3" text-anchor="middle">9</text>
<text x="460.85" y="215.25" font-size="8.3" text-anchor="middle">10</text>
<text x="493.8" y="215.25" font-size="8.3" text-anchor="middle">11</text>
<text x="526.75" y="215.25" font-size="8.3" text-anchor="middle">12</text>
<text x="559.7" y="215.25" font-size="8.3" text-anchor="middle">13</text>
<text x="592.65" y="215.25" font-size="8.3" text-anchor="middle">14</text>
<text x="625.6" y="215.25" font-size="8.3" text-anchor="middle">15</text>
<text x="658.55" y="215.25" font-size="8.3" text-anchor="middle">16</text>
<text x="41.3" y="443.2" font-size="9.2" text-anchor="middle">17</text>
<text x="64.1" y="443.2" font-size="9.2" text-anchor="middle">18</text>
<text x="86.9" y="443.2" font-size="9.2" text-anchor="middle">19</text>
<text x="109.7" y="443.2" font-size="9.2" text-anchor="middle">20</text>
<text x="132.5" y="443.2" font-size="9.2" text-anchor="middle">21</text>
<text x="155.3" y="443.2" font-size="9.2" text-anchor="middle">22</text>
<text x="178.1" y="443.2" font-size="9.2" text-anchor="middle">23</text>
<text x="200.9" y="443.2" font-size="9.2" text-anchor="middle">24</text>
<text x="223.7" y="443.2" font-size="9.2" text-anchor="middle">25</text>
<text x="246.5" y="443.2" font-size="9.2" text-anchor="middle">26</text>
<text x="269.3" y="443.2" font-size="9.2" text-anchor="middle">27</text>
<text x="292.1" y="443.2" font-size="9.2" text-anchor="middle">28</text>
<text x="314.9" y="443.2" font-size="9.2" text-anchor="middle">29</text>
<text x="337.7" y="443.2" font-size="9.2" text-anchor="middle">30</text>
<text x="360.5" y="443.2" font-size="9.2" text-anchor="middle">31</text>
<text x="383.3" y="443.2" font-size="9.2" text-anchor="middle">32</text>
<text x="406.1" y="443.2" font-size="9.2" text-anchor="middle">33</text>
<text x="428.9" y="443.2" font-size="9.2" text-anchor="middle">34</text>
<text x="451.7" y="443.2" font-size="9.2" text-anchor="middle">35</text>
<text x="474.5" y="443.2" font-size="9.2" text-anchor="middle">36</text>
<text x="497.3" y="443.2" font-size="9.2" text-anchor="middle">37</text>
<text x="520.1" y="443.2" font-size="9.2" text-anchor="middle">38</text>
<text x="542.9" y="443.2" font-size="9.2" text-anchor="middle">39</text>
<text x="565.7" y="443.2" font-size="9.2" text-anchor="middle">40</text>
<text x="588.5" y="443.2" font-size="9.2" text-anchor="middle">41</text>
<text x="611.3" y="443.2" font-size="9.2" text-anchor="middle">42</text>
<text x="634.1" y="443.2" font-size="9.2" text-anchor="middle">43</text>
<text x="656.9" y="443.2" font-size="9.2" text-anchor="middle">44</text>
<text x="353" y="233.4" font-size="9.05" text-anchor="middle">RAD-SCoV-epitope from S1</text>
<text x="618.6" y="232.7" font-size="9.05" text-anchor="middle">RAD-SCoV-epitope from S2</text>
<text x="348.9" y="463.4" font-size="9.95" text-anchor="middle">RAD-SCoV-epitope from RBD</text>
</g>
</svg>
</body></html>
